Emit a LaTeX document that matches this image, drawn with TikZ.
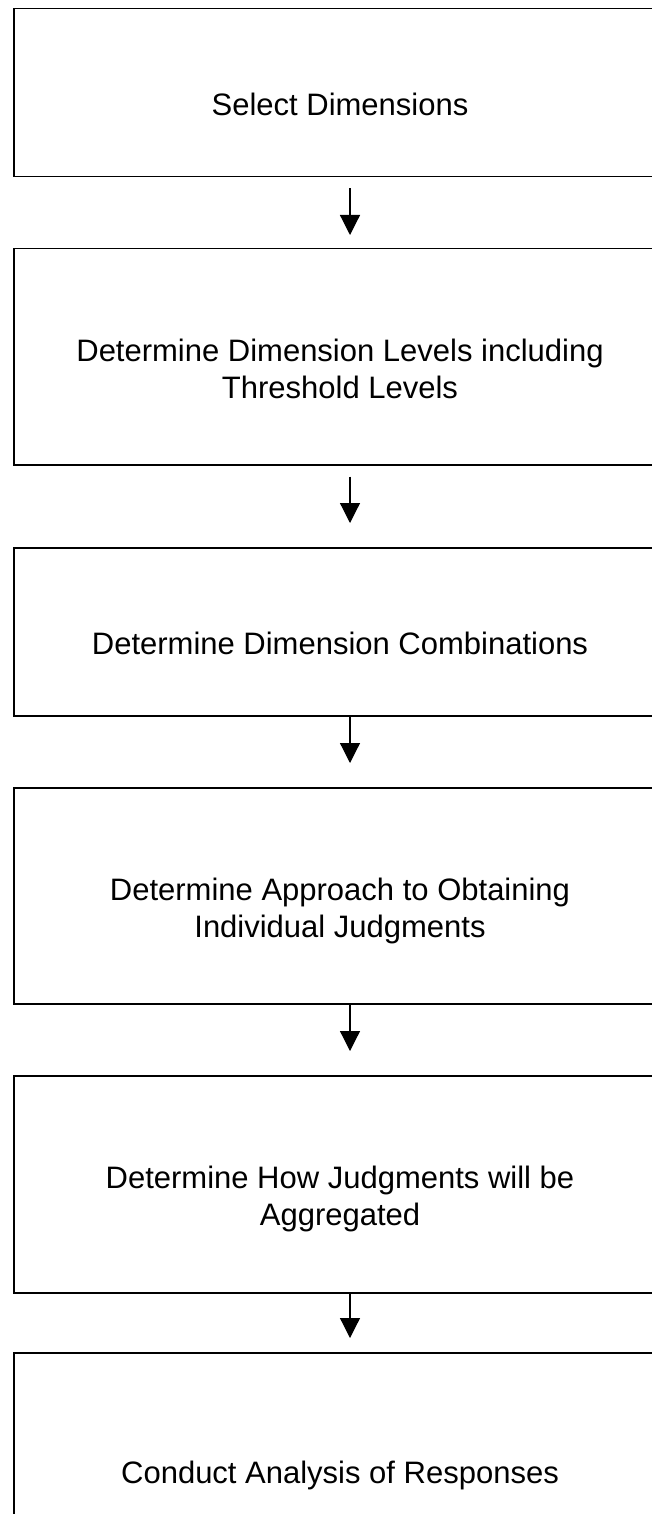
\documentclass[tikz,border=0pt]{standalone}
\usepackage{fontspec}
\setmainfont{Liberation Sans}
\usetikzlibrary{arrows.meta}
\begin{document}
\begin{tikzpicture}[x=1pt,y=-1pt,
  stepbox/.style={draw,line width=1.5pt,minimum width=672pt,inner sep=0pt,anchor=north},
  lbl/.style={font=\fontsize{31}{37}\selectfont,align=center,anchor=base,inner sep=0pt},
  flow/.style={-{Triangle[width=20pt,length=20pt]},line width=1.2pt}]
\useasboundingbox (0,0) rectangle (652,1514);
\clip (0,0) rectangle (652,1514);
\node[stepbox,minimum height=168pt] (b1) at (350,8) {};
\node[stepbox,minimum height=216pt] (b2) at (350,248) {};
\node[stepbox,minimum height=168pt] (b3) at (350,547) {};
\node[stepbox,minimum height=216pt] (b4) at (350,787) {};
\node[stepbox,minimum height=217pt] (b5) at (350,1075) {};
\node[stepbox,minimum height=216pt] (b6) at (350,1352) {};
\node[lbl] (t1) at (340,115.5) {Select Dimensions};
\node[lbl] (t2) at (340,398) {Determine Dimension Levels including\\Threshold Levels};
\node[lbl] (t3) at (340,654.5) {Determine Dimension Combinations};
\node[lbl] (t4) at (340,937) {Determine Approach to Obtaining\\Individual Judgments};
\node[lbl] (t5) at (340,1225.5) {Determine How Judgments will be\\Aggregated};
\node[lbl] (t6) at (340,1483.5) {Conduct Analysis of Responses};
\draw[flow,shorten <=11pt,shorten >=13pt] (b1.south) -- (b2.north);
\draw[flow,shorten <=11pt,shorten >=24pt] (b2.south) -- (b3.north);
\draw[flow,shorten >=24pt] (b3.south) -- (b4.north);
\draw[flow,shorten >=24pt] (b4.south) -- (b5.north);
\draw[flow,shorten >=14pt] (b5.south) -- (b6.north);
\end{tikzpicture}
\end{document}
